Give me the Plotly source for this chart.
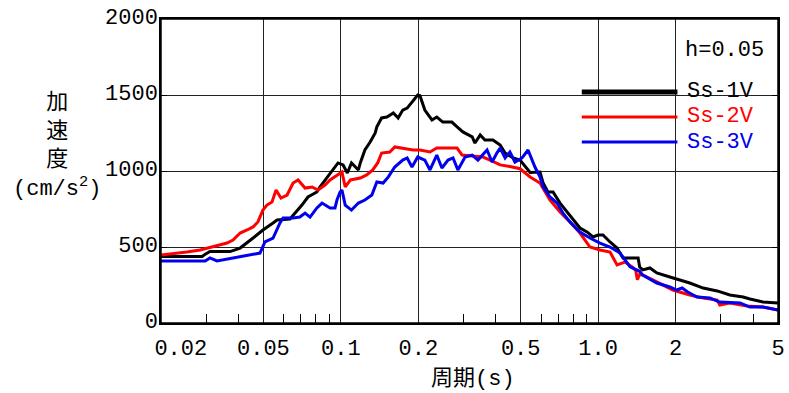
import math
import plotly.graph_objects as go

# ---- data (period [s], acceleration [cm/s^2]) ----
ss1_T = [0.020, 0.0289, 0.0297, 0.0310, 0.0371, 0.0406, 0.0456, 0.0498, 0.0545, 0.0565,
         0.0634, 0.0664, 0.0706, 0.0745, 0.0807, 0.0830, 0.0884, 0.0949, 0.0975, 0.102,
         0.106, 0.110, 0.117, 0.119, 0.124, 0.130, 0.136, 0.138, 0.144, 0.151,
         0.160, 0.167, 0.174, 0.181, 0.191, 0.199, 0.203, 0.212, 0.226, 0.236,
         0.249, 0.270, 0.283, 0.298, 0.324, 0.332, 0.348, 0.363, 0.390, 0.416,
         0.435, 0.467, 0.497, 0.544, 0.594, 0.611, 0.638, 0.668, 0.711, 0.757,
         0.798, 0.850, 0.905, 0.955, 1.00, 1.044, 1.112, 1.184, 1.249, 1.43,
         1.45, 1.49, 1.59, 1.69, 1.90, 2.02, 2.27, 2.56, 2.90, 3.25,
         3.66, 3.89, 4.37, 5.00]
ss1_A = [438, 438, 452, 470, 470, 493, 559, 612, 658, 678,
         684, 723, 776, 829, 862, 895, 954, 1026, 1053, 1040,
         987, 1053, 1007, 1053, 1138, 1191, 1250, 1290, 1349, 1355,
         1382, 1349, 1401, 1414, 1467, 1500, 1495, 1401, 1336, 1355,
         1322, 1322, 1290, 1257, 1224, 1184, 1237, 1204, 1204, 1171,
         1118, 1086, 1072, 990, 993, 921, 862, 862, 789, 730,
         678, 625, 599, 566, 579, 579, 533, 493, 428, 428,
         368, 349, 362, 329, 303, 289, 263, 230, 211, 184,
         171, 158, 138, 132]

ss2_T = [0.020, 0.0237, 0.0252, 0.0284, 0.0319, 0.0361, 0.0381, 0.0406, 0.0432, 0.0456,
         0.0476, 0.0498, 0.0516, 0.0540, 0.0555, 0.0560, 0.0585, 0.0618, 0.0652, 0.0682,
         0.0726, 0.0773, 0.0815, 0.0868, 0.0908, 0.0966, 0.101, 0.104, 0.109, 0.119,
         0.126, 0.133, 0.139, 0.144, 0.155, 0.162, 0.174, 0.191, 0.203, 0.222,
         0.236, 0.283, 0.296, 0.357, 0.380, 0.416, 0.454, 0.497, 0.544, 0.594,
         0.650, 0.711, 0.777, 0.850, 0.929, 1.016, 1.112, 1.184, 1.27, 1.36,
         1.40, 1.42, 1.45, 1.49, 1.69, 1.95, 2.27, 2.56, 2.90, 2.97,
         3.25, 3.79, 4.37, 5.00]
ss2_A = [447, 460, 467, 480, 500, 526, 546, 592, 612, 632,
         665, 743, 776, 796, 855, 875, 822, 842, 921, 941,
         888, 895, 875, 908, 941, 974, 993, 895, 941, 954,
         974, 1007, 1053, 1118, 1125, 1158, 1151, 1138, 1138, 1125,
         1151, 1151, 1105, 1092, 1072, 1040, 1030, 1015, 961, 921,
         809, 730, 665, 592, 500, 480, 467, 382, 401, 368,
         345, 285, 320, 316, 270, 217, 184, 164, 151, 118,
         132, 112, 105, 86]

ss3_T = [0.020, 0.0297, 0.0310, 0.0330, 0.0381, 0.0432, 0.0485, 0.0507, 0.0545, 0.0580,
         0.0596, 0.0652, 0.0693, 0.0726, 0.0759, 0.0807, 0.0845, 0.0908, 0.0949, 0.0966,
         0.0993, 0.101, 0.104, 0.110, 0.117, 0.124, 0.132, 0.138, 0.146, 0.153,
         0.162, 0.174, 0.181, 0.189, 0.199, 0.212, 0.222, 0.236, 0.247, 0.261,
         0.273, 0.285, 0.304, 0.324, 0.341, 0.370, 0.387, 0.404, 0.416, 0.435,
         0.454, 0.475, 0.506, 0.534, 0.568, 0.594, 0.611, 0.650, 0.692, 0.730,
         0.777, 0.850, 0.929, 1.016, 1.112, 1.216, 1.33, 1.45, 1.49, 1.69,
         1.90, 2.02, 2.12, 2.23, 2.42, 2.72, 2.97, 3.56, 3.89, 4.37,
         5.00]
ss3_A = [408, 408, 428, 408, 428, 447, 460, 533, 559, 658,
         691, 691, 697, 723, 697, 757, 789, 757, 757, 809,
         862, 875, 776, 743, 789, 809, 842, 928, 921, 961,
         1026, 1072, 1086, 1026, 1092, 1072, 1007, 1105, 1020, 1072,
         1086, 1007, 1092, 1105, 1072, 1138, 1059, 1118, 1151, 1086,
         1125, 1059, 1086, 1138, 1026, 961, 895, 829, 789, 723,
         665, 599, 559, 526, 500, 460, 370, 340, 315, 263,
         237, 217, 230, 204, 171, 164, 138, 132, 105, 105,
         86]

series_names = ["Ss-1V", "Ss-2V", "Ss-3V"]
series_colors = ["#000000", "#ff0000", "#0000ee"]

x_tick_vals = [0.02, 0.05, 0.1, 0.2, 0.5, 1.0, 2, 5]
x_tick_text = ["\u00a0\u00a0\u00a00.02", "0.05", "0.1", "0.2", "0.5", "1.0", "2", "5"]
x_minor_vals = [0.03, 0.04, 0.06, 0.07, 0.08, 0.09, 0.3, 0.4, 0.6, 0.7, 0.8, 0.9, 3, 4]
y_tick_vals = [0, 500, 1000, 1500, 2000]

FONT = "Liberation Mono, Noto Sans CJK JP, monospace"
XRANGE = [math.log10(0.02), math.log10(5)]

fig = go.Figure()
for T, A, name, col in zip([ss1_T, ss2_T, ss3_T], [ss1_A, ss2_A, ss3_A],
                           series_names, series_colors):
    fig.add_trace(go.Scatter(x=T, y=A, mode="lines", name=name,
                             line=dict(color=col, width=3), showlegend=False))

fig.update_layout(
    width=789, height=393,
    margin=dict(l=161, r=11, t=19, b=70),
    paper_bgcolor="white", plot_bgcolor="white",
    font=dict(family=FONT, size=22, color="black"),
)
minor_ticks = dict(tickvals=x_minor_vals, ticks="inside", ticklen=9, tickcolor="black",
                   tickwidth=1, showgrid=False)
fig.update_layout(
    xaxis=dict(
        type="log", range=XRANGE,
        tickvals=x_tick_vals, ticktext=x_tick_text,
        showgrid=True, gridcolor="#222", gridwidth=1,
        showline=True, linecolor="black", linewidth=1.5, mirror=True,
        ticks="", ticklabelstandoff=4, automargin=False, ticklabeloverflow="allow",
        minor=minor_ticks, zeroline=False,
    ),
    xaxis2=dict(
        type="log", range=XRANGE, overlaying="x", side="top",
        tickvals=[], showticklabels=False, showgrid=False,
        showline=True, linecolor="black", linewidth=1.5,
        ticks="", minor=dict(minor_ticks, ticklen=8), automargin=False, zeroline=False,
    ),
    yaxis=dict(
        range=[0, 2000], tickvals=y_tick_vals,
        showgrid=True, gridcolor="#222", gridwidth=1,
        showline=True, linecolor="black", linewidth=1.5, mirror="ticks",
        ticks="inside", ticklen=6, tickcolor="black", ticklabelstandoff=-3,
        ticklabelshift=-3, zeroline=False, automargin=False, ticklabeloverflow="allow",
    ),
)

# white box behind legend
fig.add_shape(type="rect", xref="paper", yref="paper", x0=0.647, x1=0.989,
              y0=0.505, y1=0.865, fillcolor="white", line=dict(width=0), layer="between")
# plot frame
fig.add_shape(type="rect", xref="paper", yref="paper", x0=0, x1=1, y0=0, y1=1,
              line=dict(color="black", width=1.5), fillcolor="rgba(0,0,0,0)", layer="above")

leg_y = [0.760, 0.678, 0.595]
leg_w = [5, 3, 3]
for name, col, yy, w in zip(series_names, series_colors, leg_y, leg_w):
    fig.add_shape(type="line", xref="paper", yref="paper", x0=0.682, x1=0.837,
                  y0=yy, y1=yy, line=dict(color=col, width=w))
    fig.add_annotation(xref="paper", yref="paper", x=0.849, y=yy, text=name,
                       showarrow=False, xanchor="left", yanchor="middle",
                       font=dict(color=col, size=22, family=FONT))

fig.add_annotation(xref="paper", yref="paper", x=0.846, y=0.898, text="h=0.05",
                   showarrow=False, xanchor="left", yanchor="middle",
                   font=dict(size=22, family=FONT))

# axis titles
fig.add_annotation(xref="paper", yref="paper", x=(473 - 161) / 617, y=(323 - 379) / 304,
                   text="周期(s)", showarrow=False, xanchor="center", yanchor="middle",
                   font=dict(size=22, family=FONT))
fig.add_annotation(xref="paper", yref="paper", x=(57 - 161) / 617, y=(323 - 146) / 304,
                   text="加<br>速<br>度<br>(cm/s<sup>2</sup>)", showarrow=False,
                   xanchor="center", yanchor="middle", align="center",
                   font=dict(size=22, family=FONT))

# remove the default 8px page margin so the figure fills the window exactly
fig.write_html("out.html", config={"displayModeBar": False},
               post_script="document.body.style.margin='0';document.body.style.overflow='hidden';")
